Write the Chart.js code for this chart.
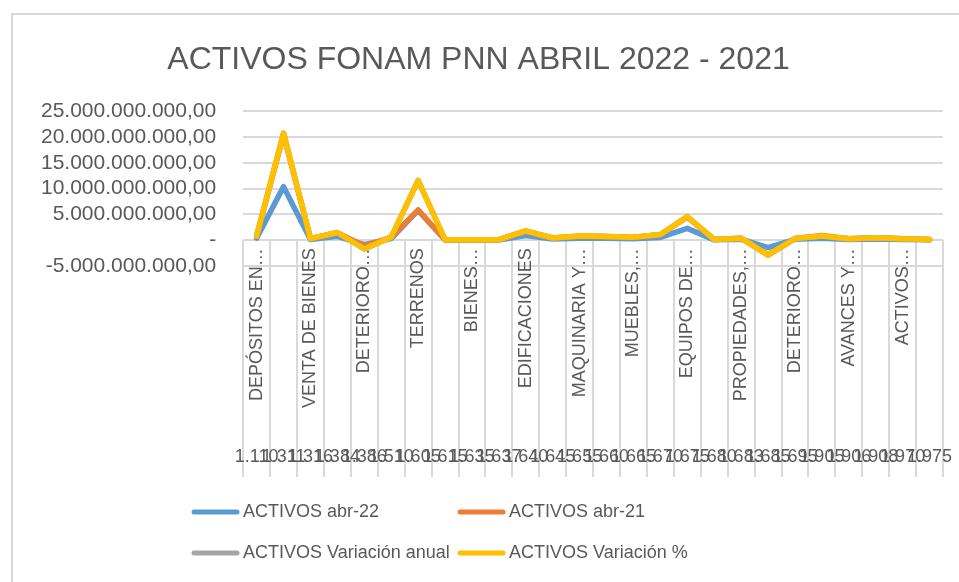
<!DOCTYPE html>
<html>
<head>
<meta charset="utf-8">
<title>Activos FONAM PNN</title>
<script src="https://cdn.jsdelivr.net/npm/chart.js@4.4.1/dist/chart.umd.min.js"></script>
<style>
  html, body { margin: 0; padding: 0; background: #fff; overflow: hidden; }
  #wrap { position: relative; width: 959px; height: 582px; }
  #frame { position: absolute; left: 11px; top: 13px; width: 1000px; height: 1000px; border: 2px solid #d9d9d9; box-sizing: border-box; }
  canvas { position: absolute; left: 0; top: 0; }
</style>
</head>
<body>
<div id="wrap">
  <div id="frame"></div>
  <canvas id="activosChart" width="959" height="582"></canvas>
</div>
<script>
// account codes (outer level of the category axis)
const codes = ['1.110', '1.311', '1.316', '1.384', '1.386', '1.510', '1.605', '1.615', '1.635', '1.637',
    '1.640', '1.645', '1.655', '1.660', '1.665', '1.670', '1.675', '1.680', '1.683', '1.685',
    '1.695', '1.905', '1.906', '1.908', '1.970', '1.975'];

// account names (inner level, Excel only shows every other one)
const names = ['DEPÓSITOS EN…', 'CONTRIBUCIONES…', 'VENTA DE BIENES', 'OTRAS CUENTAS…', 'DETERIORO…',
    'MERCANCÍAS…', 'TERRENOS', 'CONSTRUCCIONES…', 'BIENES…', 'PROPIEDADES…',
    'EDIFICACIONES', 'PLANTAS,…', 'MAQUINARIA Y…', 'EQUIPO MÉDICO…', 'MUEBLES,…',
    'EQUIPOS DE…', 'EQUIPOS DE…', 'EQUIPOS DE…', 'PROPIEDADES,…', 'DEPRECIACIÓN…',
    'DETERIORO…', 'BIENES Y…', 'AVANCES Y…', 'RECURSOS…', 'ACTIVOS…', 'AMORTIZACIÓN…'];

// values in pesos
const abr22 = [400000000, 10400000000, 150000000, 750000000, -850000000, 300000000, 5800000000, 50000000,
    40000000, 50000000, 900000000, 220000000, 400000000, 370000000, 280000000, 550000000, 2300000000,
    70000000, 200000000, -1450000000, 170000000, 400000000, 150000000, 250000000, 150000000, 70000000];
const abr21 = [380000000, 10100000000, 140000000, 700000000, -250000000, 280000000, 100000000, 50000000,
    40000000, 50000000, 850000000, 200000000, 380000000, 350000000, 270000000, 520000000, 2200000000,
    70000000, 190000000, -1400000000, 160000000, 500000000, 140000000, 240000000, 150000000, 70000000];
const variacionAnual = [20000000, 300000000, 10000000, 50000000, -600000000, 20000000, 5700000000, 0,
    0, 0, 50000000, 20000000, 20000000, 20000000, 10000000, 30000000, 100000000,
    0, 10000000, -50000000, 10000000, -100000000, 10000000, 10000000, 0, 0];
const variacionPct = [0.05, 0.03, 0.07, 0.07, 2.4, 0.07, 57, 0, 0, 0, 0.06, 0.1, 0.05,
    0.06, 0.04, 0.06, 0.05, 0, 0.05, 0.04, 0.06, -0.2, 0.07, 0.04, 0, 0];

const yTicks = [-5000000000, 0, 5000000000, 10000000000, 15000000000, 20000000000, 25000000000];

const gridColor = '#d9d9d9';
const textColor = '#595959';
const fontFamily = '"Liberation Sans", Arial, sans-serif';

Chart.defaults.font.family = fontFamily;
Chart.defaults.color = textColor;

// Excel stacks first series at the bottom but paints the last one on top,
// Chart.js paints the first one on top, so draw the datasets in forward order
const excelDrawOrder = {
    id: 'excelDrawOrder',
    beforeDatasetsDraw(chart) {
        chart.getSortedVisibleDatasetMetas().forEach(meta => meta.controller.draw());
        return false;
    }
};

// legend as a 2 x 2 grid like the Excel one
const legendGrid = {
    id: 'legendGrid',
    afterDraw(chart) {
        const ctx = chart.ctx;
        ctx.save();
        ctx.font = '18px ' + fontFamily;
        ctx.textBaseline = 'middle';
        chart.data.datasets.forEach((ds, i) => {
            const x = 191 + (i % 2) * 266;
            const y = 512 + Math.floor(i / 2) * 41;
            ctx.strokeStyle = ds.borderColor;
            ctx.lineWidth = 5;
            ctx.lineCap = 'round';
            ctx.beginPath();
            ctx.moveTo(x + 3, y);
            ctx.lineTo(x + 46, y);
            ctx.stroke();
            ctx.fillStyle = textColor;
            ctx.fillText(ds.label, x + 52, y);
        });
        ctx.restore();
    }
};

const lineSet = (label, data, color) => ({
    label: label,
    data: data,
    borderColor: color,
    backgroundColor: color,
    borderWidth: 5.5,
    borderJoinStyle: 'round',
    borderCapStyle: 'round',
    pointRadius: 0,
    pointHoverRadius: 0,
    tension: 0,
    fill: false
});

const ctx = document.getElementById('activosChart').getContext('2d');
new Chart(ctx, {
    type: 'line',
    data: {
        labels: names,
        datasets: [
            lineSet('ACTIVOS abr-22', abr22, '#5b9bd5'),
            lineSet('ACTIVOS abr-21', abr21, '#ed7d31'),
            lineSet('ACTIVOS Variación anual', variacionAnual, '#a5a5a5'),
            lineSet('ACTIVOS Variación %', variacionPct, '#ffc000')
        ]
    },
    plugins: [excelDrawOrder, legendGrid],
    options: {
        responsive: false,
        animation: false,
        // the category labels hang below the zero line, so the bottom is kept free by padding
        layout: { padding: { left: 14, right: 16, top: 23, bottom: 316 } },
        plugins: {
            legend: { display: false },
            tooltip: { enabled: false },
            title: {
                display: true,
                text: 'ACTIVOS FONAM PNN ABRIL 2022 - 2021',
                color: textColor,
                font: { size: 32, weight: 'normal' },
                padding: { top: 18, bottom: 32 }
            }
        },
        scales: {
            y: {
                stacked: 'single',
                min: yTicks[0],
                max: yTicks[yTicks.length - 1],
                afterBuildTicks: (scale) => { scale.ticks = yTicks.map(v => ({ value: v })); },
                grid: { color: gridColor, lineWidth: 2, drawTicks: false },
                border: { display: false },
                ticks: {
                    autoSkip: false,
                    padding: 27,
                    font: { size: 21 },
                    callback: (v) => v === 0 ? '-' :
                        v.toLocaleString('de-DE', { minimumFractionDigits: 2, maximumFractionDigits: 2 })
                }
            },
            x: {
                type: 'category',
                position: { y: 0 },
                offset: true,
                grid: { offset: true, drawOnChartArea: false, tickLength: 237, color: gridColor, lineWidth: 2 },
                border: { display: false },
                ticks: {
                    autoSkip: false,
                    minRotation: 90,
                    maxRotation: 90,
                    padding: -229,
                    font: { size: 18 },
                    callback: function (v, i) { return i % 2 ? '' : this.getLabelForValue(v); }
                }
            },
            x2: {
                type: 'category',
                labels: codes,
                position: { y: 0 },
                offset: true,
                // invisible tick length pushes the code row down to the foot of the separators
                grid: { display: false, drawTicks: true, tickLength: 206 },
                border: { display: false },
                ticks: {
                    autoSkip: false,
                    minRotation: 0,
                    maxRotation: 0,
                    padding: 0,
                    font: { size: 18 }
                }
            }
        }
    }
});
</script>
</body>
</html>
